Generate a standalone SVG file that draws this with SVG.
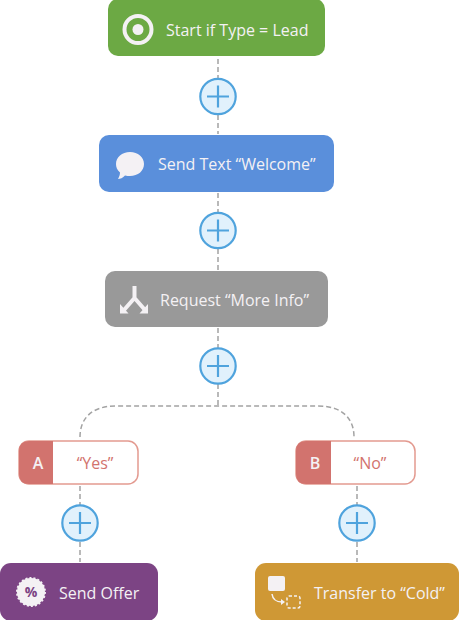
<svg xmlns="http://www.w3.org/2000/svg" width="459" height="620" viewBox="0 0 459 620">
<defs>
<style>
text{font-family:"Open Sans","Noto Sans",sans-serif;font-size:16px}
.w{fill:#f4f1f4}
.c{fill:none;stroke:#a3a3a3;stroke-width:1.5;stroke-dasharray:5 3}
.p circle{fill:#e1f1fc;stroke:#4fa3dd;stroke-width:2.200}
.p path{fill:none;stroke:#4fa3dd;stroke-width:2.200}
.r{fill:#d2736e}
</style>
<g id="plus" class="p"><circle r="17.700"/><path d="M-11 0H11M0-11V11"/></g>
</defs>
<rect width="459" height="620" fill="#fff"/>
<g id="connectors">
<path class="c" d="M218 59V134"/>
<path class="c" d="M218 193V270"/>
<path class="c" d="M218 328V405"/>
<path class="c" d="M80 437C80 420 90 406 116 406H318C344 406 354 420 354 437"/>
<path class="c" d="M80 486V562"/>
<path class="c" d="M357 486V562"/>
</g>
<g id="add1"><use href="#plus" x="218" y="96.500"/></g>
<g id="add2"><use href="#plus" x="218" y="230.500"/></g>
<g id="add3"><use href="#plus" x="218" y="366"/></g>
<g id="add4"><use href="#plus" x="80" y="523"/></g>
<g id="add5"><use href="#plus" x="357" y="523"/></g>
<g id="start">
<rect x="108" y="-1" width="217" height="57" rx="10" fill="#6ca944"/>
<circle cx="138" cy="29.500" r="13.500" fill="none" stroke="#f4f1f4" stroke-width="4"/>
<circle cx="138" cy="29.500" r="5.500" class="w"/>
<text x="166" y="36" class="w">Start if Type = Lead</text>
</g>
<g id="send-text">
<rect x="99" y="135" width="235" height="57" rx="10" fill="#5a8fdb"/>
<path class="w" d="M130 152C138 152 144 157 144 164C144 171 138 176 130 176C128 176 127 176 125 175.500C123 178 120 179 118 179C119 177 120 175 120 172.500C117 170 116 167 116 164C116 157 122 152 130 152Z"/>
<text x="158" y="170" class="w">Send Text “Welcome”</text>
</g>
<g id="request">
<rect x="105" y="271" width="223" height="56" rx="10" fill="#999999"/>
<path d="M134.500 286V298L124 310M134.500 298L145 310" fill="none" stroke="#f4f1f4" stroke-width="4"/>
<path class="w" d="M120 304L128.500 313.500H120ZM148 304V313.500H139.500Z"/>
<text x="160" y="306" class="w">Request “More Info”</text>
</g>
<g id="branch-a">
<rect x="19" y="441" width="119" height="43" rx="10" fill="#fff" stroke="#e39a90" stroke-width="1.500"/>
<path class="r" d="M53 441V484H29Q19 484 19 474V451Q19 441 29 441Z"/>
<text x="38" y="469" text-anchor="middle" class="w" style="font-weight:600">A</text>
<text x="95" y="469" text-anchor="middle" class="r">“Yes”</text>
</g>
<g id="branch-b">
<rect x="296" y="441" width="119" height="43" rx="10" fill="#fff" stroke="#e39a90" stroke-width="1.500"/>
<path class="r" d="M331 441V484H306Q296 484 296 474V451Q296 441 306 441Z"/>
<text x="315" y="469" text-anchor="middle" class="w" style="font-weight:600">B</text>
<text x="370" y="469" text-anchor="middle" class="r">“No”</text>
</g>
<g id="send-offer">
<rect x="0" y="563" width="158" height="58" rx="11" fill="#7c4484"/>
<circle cx="31" cy="592" r="14" class="w" stroke="#f4f1f4" stroke-width="2" stroke-dasharray="2 2"/>
<text x="31" y="597" text-anchor="middle" style="font-size:14px;font-weight:700" fill="#7c4484">%</text>
<text x="59" y="599" class="w">Send Offer</text>
</g>
<g id="transfer">
<rect x="255" y="563" width="204" height="58" rx="11" fill="#cf9835"/>
<rect x="268" y="576" width="17" height="15" rx="2" class="w"/>
<path d="M272 594Q273 602 282 602" fill="none" stroke="#f4f1f4" stroke-width="1.500"/>
<path class="w" d="M281 599L285 602L281 605Z"/>
<rect x="287" y="596" width="13" height="12" rx="2" fill="none" stroke="#f4f1f4" stroke-width="1.500" stroke-dasharray="3 2"/>
<text x="314" y="599" class="w">Transfer to “Cold”</text>
</g>
</svg>
